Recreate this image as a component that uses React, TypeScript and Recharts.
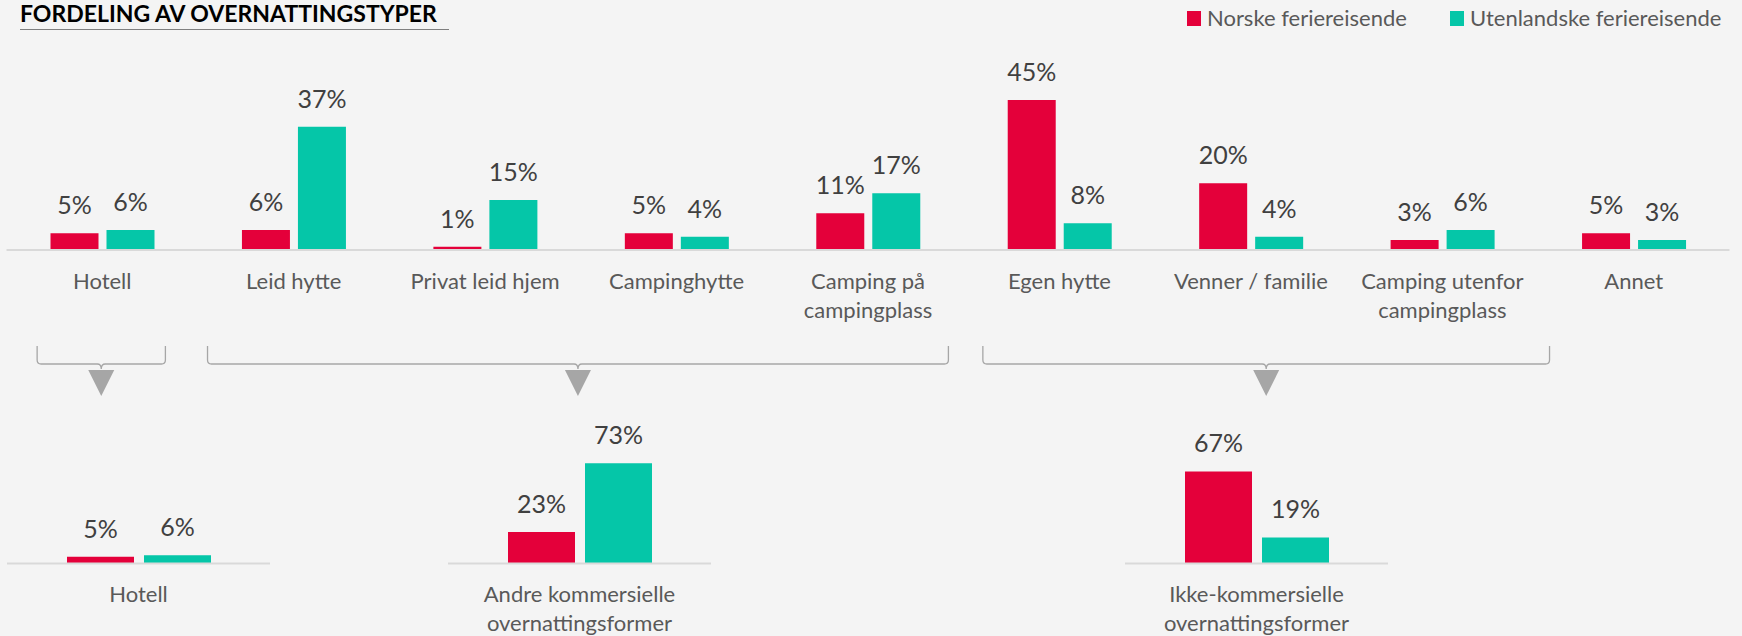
// Two-level grouped bar chart: overnight stay types, Norwegian vs foreign holiday travellers.
import React from "react";
import { BarChart, Bar, XAxis, YAxis, LabelList } from "recharts";

const FONT = "Lato, 'Open Sans', sans-serif";
const RED = "#E4003A";
const TEAL = "#05C6A8";
const BG = "#F4F4F4";
const VALUE_COLOR = "#404040";
const LABEL_COLOR = "#595959";

const seriesNames = ["Norske feriereisende", "Utenlandske feriereisende"];

const categories = [
  "Hotell",
  "Leid hytte",
  "Privat leid hjem",
  "Campinghytte",
  "Camping på\ncampingplass",
  "Egen hytte",
  "Venner / familie",
  "Camping utenfor\ncampingplass",
  "Annet",
];
const norske = [5, 6, 1, 5, 11, 45, 20, 3, 5];
const utenlandske = [6, 37, 15, 4, 17, 8, 4, 6, 3];

const groupNames = [
  "Hotell",
  "Andre kommersielle\novernattingsformer",
  "Ikke-kommersielle\novernattingsformer",
];
const groupNorske = [5, 23, 67];
const groupUtenlandske = [6, 73, 19];

// bracket spans over the top axis, in category units
const bracketSpans = [
  [0.16, 0.83],
  [1.05, 4.92],
  [5.1, 8.06],
];

const topData = categories.map((name, i) => ({
  name,
  norske: norske[i],
  utenlandske: utenlandske[i],
}));

const groupData = groupNames.map((name, i) => ({
  name,
  norske: groupNorske[i],
  utenlandske: groupUtenlandske[i],
}));

// layout of the top chart
const TOP_W = 1742;
const TOP_LEFT = 6.5;
const TOP_RIGHT = 12.5;
const TOP_BAND = (TOP_W - TOP_LEFT - TOP_RIGHT) / categories.length;

// left edges of the three small charts
const bottomLefts = [6.7, 448.3, 1125];

const CategoryTick = (props: any) => {
  const { x, y, payload } = props;
  const lines = String(payload.value).split("\n");
  return (
    <text
      x={x}
      y={y + 38.5}
      textAnchor="middle"
      fill={LABEL_COLOR}
      fontSize={22}
      fontFamily={FONT}
    >
      {lines.map((l, i) => (
        <tspan key={i} x={x} dy={i === 0 ? 0 : 29}>
          {l}
        </tspan>
      ))}
    </text>
  );
};

const pct = (v: any) => `${v}%`;

const Bars = ({ size }: { size: number }) => (
  <>
    <Bar dataKey="norske" fill={RED} barSize={size} isAnimationActive={false}>
      <LabelList
        dataKey="norske"
        position="top"
        offset={19}
        formatter={pct}
        fill={VALUE_COLOR}
        fontSize={25}
        fontFamily={FONT}
      />
    </Bar>
    <Bar dataKey="utenlandske" fill={TEAL} barSize={size} isAnimationActive={false}>
      <LabelList
        dataKey="utenlandske"
        position="top"
        offset={19}
        formatter={pct}
        fill={VALUE_COLOR}
        fontSize={25}
        fontFamily={FONT}
      />
    </Bar>
  </>
);

const Bracket = ({ span }: { span: number[] }) => {
  const x1 = TOP_LEFT + span[0] * TOP_BAND;
  const x2 = TOP_LEFT + span[1] * TOP_BAND;
  const cx = (x1 + x2) / 2;
  const yTop = 346;
  const yLine = 364;
  const r = 4;
  const d = [
    `M ${x1} ${yTop}`,
    `L ${x1} ${yLine - r}`,
    `Q ${x1} ${yLine} ${x1 + r} ${yLine}`,
    `L ${cx - 4} ${yLine}`,
    `Q ${cx} ${yLine} ${cx} ${yLine + 5}`,
    `Q ${cx} ${yLine} ${cx + 4} ${yLine}`,
    `L ${x2 - r} ${yLine}`,
    `Q ${x2} ${yLine} ${x2} ${yLine - r}`,
    `L ${x2} ${yTop}`,
  ].join(" ");
  return (
    <g>
      <path d={d} fill="none" stroke="#A6A6A6" strokeWidth={1.3} />
      <path d={`M ${cx - 13} 370 L ${cx + 13} 370 L ${cx} 396 Z`} fill="#A6A6A6" />
    </g>
  );
};

export default function App() {
  return (
    <div
      style={{
        position: "absolute",
        left: 0,
        top: 0,
        width: 1742,
        height: 636,
        background: BG,
        overflow: "hidden",
        fontFamily: FONT,
      }}
    >
      <div style={{ position: "absolute", left: 0, top: 0 }}>
        <BarChart
          width={TOP_W}
          height={330}
          data={topData}
          barGap={8}
          margin={{ top: 50, right: TOP_RIGHT, bottom: 0, left: TOP_LEFT }}
        >
          <XAxis
            dataKey="name"
            height={80}
            interval={0}
            tickLine={false}
            tickSize={0}
            tickMargin={0}
            axisLine={{ stroke: "#D9D9D9", strokeWidth: 2 }}
            tick={<CategoryTick />}
          />
          <YAxis hide domain={[0, 60]} />
          {Bars({ size: 48 })}
        </BarChart>
      </div>

      {groupData.map((d, i) => (
        <div key={d.name} style={{ position: "absolute", left: bottomLefts[i], top: 400 }}>
          <BarChart
            width={263}
            height={236}
            data={[d]}
            barGap={10}
            margin={{ top: 26, right: 0, bottom: 0, left: 0 }}
          >
            <XAxis
              dataKey="name"
              height={72.5}
              interval={0}
              tickLine={false}
              tickSize={0}
              tickMargin={0}
              axisLine={{ stroke: "#D9D9D9", strokeWidth: 2 }}
              tick={<CategoryTick />}
            />
            <YAxis hide domain={[0, 100]} />
            {Bars({ size: 67 })}
          </BarChart>
        </div>
      ))}

      <svg
        width={1742}
        height={636}
        style={{ position: "absolute", left: 0, top: 0, pointerEvents: "none" }}
      >
        <text x={20} y={22} fontSize={23} fontWeight="bold" fill="#000" fontFamily={FONT}>
          FORDELING AV OVERNATTINGSTYPER
        </text>
        <line x1={20} x2={449} y1={29.5} y2={29.5} stroke="#7F7F7F" strokeWidth={1.2} />

        {seriesNames.map((name, i) => {
          const x = i === 0 ? 1187 : 1450;
          return (
            <g key={name}>
              <rect x={x} y={11} width={14} height={15} fill={i === 0 ? RED : TEAL} />
              <text x={x + 20} y={26} fontSize={22} fill={LABEL_COLOR} fontFamily={FONT}>
                {name}
              </text>
            </g>
          );
        })}

        {bracketSpans.map((s, i) => (
          <Bracket key={i} span={s} />
        ))}
      </svg>
    </div>
  );
}
